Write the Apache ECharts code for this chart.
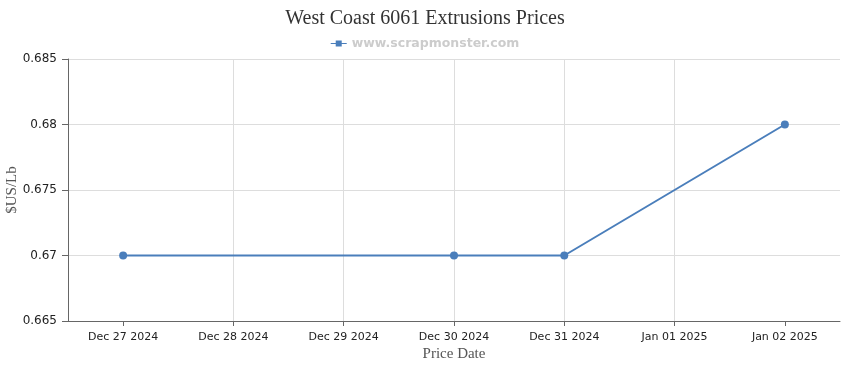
<!DOCTYPE html>
<html><head><meta charset="utf-8">
<script src="https://cdn.jsdelivr.net/npm/echarts@6/dist/echarts.min.js"></script>
<style>html,body{margin:0;padding:0;background:#fff}#c{width:850px;height:370px}</style>
</head><body><div id="c"></div>
<script>
const categories = ["Dec 27 2024","Dec 28 2024","Dec 29 2024","Dec 30 2024","Dec 31 2024","Jan 01 2025","Jan 02 2025"];
const prices = [0.67, null, null, 0.67, 0.67, null, 0.68];
const yTicks = [0.665, 0.67, 0.675, 0.68, 0.685];
const idx = categories.map((_, i) => i);
const seriesData = prices.map((v, i) => v === null ? null : [i, v]).filter(d => d);
const chart = echarts.init(document.getElementById('c'));
chart.setOption({
  animation: false,
  title: { text: 'West Coast 6061 Extrusions Prices', left: 'center', top: 4,
    textStyle: { fontFamily: 'Liberation Serif', fontSize: 20, fontWeight: 'normal', color: '#333' } },
  legend: { top: 32, left: 'center', itemWidth: 16, itemHeight: 8, icon: 'path://M0,3.5H16V4.5H0Z M5,1H11V7H5Z',
    textStyle: { fontFamily: 'DejaVu Sans', fontSize: 12.5, fontWeight: 'bold', color: '#cccccc' },
    data: ['www.scrapmonster.com'] },
  grid: { left: 68, right: 10, top: 59, bottom: 49, containLabel: false, outerBoundsMode: 'none' },
  xAxis: { type: 'value', min: -0.5, max: 6.5,
    name: 'Price Date', nameLocation: 'middle', nameGap: 26, nameMoveOverlap: false,
    nameTextStyle: { fontFamily: 'Liberation Serif', fontSize: 15, color: '#555' },
    axisLine: { onZero: false, lineStyle: { color: '#666' } },
    axisTick: { show: true, length: 5, customValues: idx, lineStyle: { color: '#666' } },
    axisLabel: { customValues: idx, formatter: v => categories[Math.round(v)] || '',
      fontFamily: 'DejaVu Sans', fontSize: 11, color: '#222', margin: 11 },
    splitLine: { show: true, showMinLine: false, showMaxLine: false, lineStyle: { color: '#ddd' } } },
  yAxis: { type: 'value', min: 0.665, max: 0.685, interval: 0.005,
    name: '$US/Lb', nameLocation: 'middle', nameGap: 48, nameMoveOverlap: false,
    nameTextStyle: { fontFamily: 'Liberation Serif', fontSize: 15, color: '#555' },
    axisLine: { show: true, onZero: false, lineStyle: { color: '#666' } },
    axisTick: { show: true, length: 6, lineStyle: { color: '#666' } },
    axisLabel: { formatter: v => String(parseFloat(v.toFixed(3))), fontFamily: 'DejaVu Sans', fontSize: 12, color: '#222', margin: 11 },
    splitLine: { show: true, lineStyle: { color: '#ddd' } } },
  series: [{ name: 'www.scrapmonster.com', type: 'line', data: seriesData,
    symbol: 'circle', symbolSize: 8, color: '#4a7ebb',
    lineStyle: { width: 2, color: '#4a7ebb' }, itemStyle: { color: '#4a7ebb' } }]
});
</script></body></html>
